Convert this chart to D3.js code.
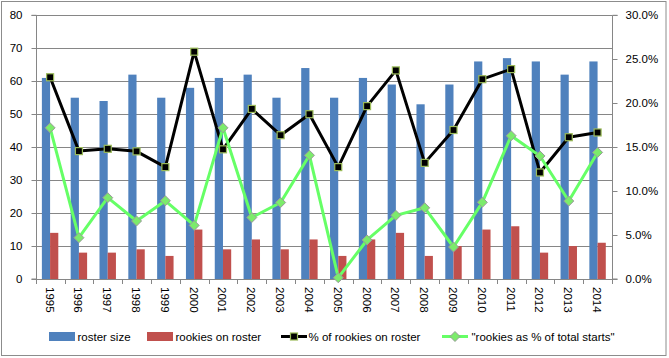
<!DOCTYPE html>
<html><head><meta charset="utf-8">
<script src="https://cdn.jsdelivr.net/npm/d3@7"></script>
<style>body{margin:0;background:#fff}svg{display:block;font-family:"Liberation Sans",Arial,sans-serif}</style>
</head><body><svg id="c" width="669" height="358"></svg>
<script>
const years = ["1995","1996","1997","1998","1999","2000","2001","2002","2003","2004","2005","2006","2007","2008","2009","2010","2011","2012","2013","2014"];
const rosterSize = [61,55,54,62,55,58,61,62,55,64,55,61,59,53,59,66,67,66,62,66];
const rookiesOnRoster = [14,8,8,9,7,15,9,12,9,12,7,12,14,7,10,15,16,8,10,11];
const pctRookiesOnRoster = [0.2295,0.1455,0.1481,0.1452,0.1273,0.2586,0.1475,0.1935,0.1636,0.1875,0.1273,0.1967,0.2373,0.1321,0.1695,0.2273,0.2388,0.1212,0.1613,0.1667];
const pctRookieStarts = [0.172,0.047,0.0925,0.066,0.089,0.061,0.172,0.070,0.087,0.1407,0.0015,0.0444,0.0724,0.081,0.0364,0.0872,0.163,0.140,0.0887,0.144];
const leftTicks = [0,10,20,30,40,50,60,70,80];
const rightTicks = [0,0.05,0.10,0.15,0.20,0.25,0.30];
const seriesNames = ["roster size","rookies on roster","% of rookies on roster","\"rookies as % of total  starts\""];

const svg = d3.select("#c");
const L = 35.7, R = 612, T = 15.3, B = 279;
const x = d3.scaleBand().domain(years).range([L, R]);
const yL = d3.scaleLinear().domain([0, 80]).range([B, T]);
const yR = d3.scaleLinear().domain([0, 0.30]).range([B, T]);
const grid = "#868686";
const FS = "11.5px";

// outer border
svg.append("rect").attr("x",1.5).attr("y",1.5).attr("width",664.5).attr("height",354).attr("fill","none").attr("stroke","#8c8c8c").attr("stroke-width",1);

// gridlines
svg.append("g").selectAll("line").data(leftTicks.slice(1)).join("line")
  .attr("x1",L).attr("x2",R).attr("y1",d=>Math.round(yL(d))+0.5).attr("y2",d=>Math.round(yL(d))+0.5)
  .attr("stroke",grid).attr("stroke-width",1);

// bars
const bw = x.bandwidth()*0.285, off = x.bandwidth()*0.2143;
svg.append("g").selectAll("rect").data(rosterSize).join("rect")
  .attr("x",(d,i)=>x(years[i])+off).attr("width",bw)
  .attr("y",d=>yL(d)).attr("height",d=>B-yL(d)).attr("fill","#4F81BD");
svg.append("g").selectAll("rect").data(rookiesOnRoster).join("rect")
  .attr("x",(d,i)=>x(years[i])+off+bw).attr("width",bw)
  .attr("y",d=>yL(d)).attr("height",d=>B-yL(d)).attr("fill","#C0504D");

// axes
const axL = svg.append("g").attr("transform",`translate(${Math.round(L)+0.5},0)`)
  .call(d3.axisLeft(yL).tickValues(leftTicks).tickSize(5).tickPadding(9).tickFormat(d3.format("d")));
const axR = svg.append("g").attr("transform",`translate(${R+0.5},0)`)
  .call(d3.axisRight(yR).tickValues(rightTicks).tickSize(5).tickPadding(8).tickFormat(d3.format(".1%")));
[axL,axR].forEach(a=>{a.select(".domain").attr("stroke",grid);a.selectAll(".tick line").attr("stroke",grid);
  a.selectAll("text").attr("font-size",FS).attr("fill","#000").attr("font-family","Liberation Sans, Arial, sans-serif");});
axL.selectAll(".tick").attr("transform",d=>`translate(0,${Math.round(yL(d))+0.5})`);
axR.selectAll(".tick").attr("transform",d=>`translate(0,${Math.round(yR(d))+0.5})`);
axL.select(".domain").attr("d",`M-5,${T}H0V${B}H-5`);
axR.select(".domain").attr("d",`M5,${T}H0V${B}H5`);

// x axis
const gx = svg.append("g");
gx.append("line").attr("x1",L).attr("x2",R).attr("y1",B+0.5).attr("y2",B+0.5).attr("stroke",grid);
gx.selectAll("line.t").data(years.concat(["end"])).join("line").attr("class","t")
  .attr("x1",(d,i)=>Math.round(L+i*x.step())+0.5).attr("x2",(d,i)=>Math.round(L+i*x.step())+0.5)
  .attr("y1",B).attr("y2",B+5).attr("stroke",grid);
gx.selectAll("text").data(years).join("text")
  .attr("transform",d=>`translate(${x(d)+x.bandwidth()/2-4.5},${B+8}) rotate(90)`)
  .attr("font-size",FS).attr("fill","#000").text(d=>d);

// lines
const cx = i => x(years[i]) + x.bandwidth()/2;
const line = d3.line().x((d,i)=>cx(i)).y(d=>yR(d));
svg.append("path").datum(pctRookiesOnRoster).attr("d",line).attr("fill","none").attr("stroke","#000").attr("stroke-width",3).attr("stroke-linejoin","round");
svg.append("path").datum(pctRookieStarts).attr("d",line).attr("fill","none").attr("stroke","#66FF66").attr("stroke-width",3).attr("stroke-linejoin","round");
svg.append("g").selectAll("rect").data(pctRookiesOnRoster).join("rect")
  .attr("x",(d,i)=>cx(i)-3.5).attr("y",d=>yR(d)-3.5).attr("width",7).attr("height",7)
  .attr("fill","#000").attr("stroke","#9BBB59").attr("stroke-width",1.2);
svg.append("g").selectAll("path").data(pctRookieStarts).join("path")
  .attr("d",(d,i)=>`M${cx(i)},${yR(d)-5}L${cx(i)+5},${yR(d)}L${cx(i)},${yR(d)+5}L${cx(i)-5},${yR(d)}Z`)
  .attr("fill","#7CEB6B").attr("stroke","#9a9a9a").attr("stroke-width",1);

// legend
const lg = svg.append("g").attr("font-size",FS);
const ly = 336.5;
lg.append("rect").attr("x",49).attr("y",ly-4.5).attr("width",26).attr("height",9).attr("fill","#4F81BD");
lg.append("text").attr("x",77.5).attr("y",ly+4).text(seriesNames[0]);
lg.append("rect").attr("x",147).attr("y",ly-4.5).attr("width",26).attr("height",9).attr("fill","#C0504D");
lg.append("text").attr("x",175.5).attr("y",ly+4).text(seriesNames[1]);
lg.append("line").attr("x1",281).attr("x2",307).attr("y1",ly).attr("y2",ly).attr("stroke","#000").attr("stroke-width",3);
lg.append("rect").attr("x",290.5).attr("y",ly-3.5).attr("width",7).attr("height",7).attr("fill","#000").attr("stroke","#9BBB59").attr("stroke-width",1.2);
lg.append("text").attr("x",308.5).attr("y",ly+4).text(seriesNames[2]);
lg.append("line").attr("x1",442).attr("x2",468).attr("y1",ly).attr("y2",ly).attr("stroke","#66FF66").attr("stroke-width",3);
lg.append("path").attr("d",`M455,${ly-5}L460,${ly}L455,${ly+5}L450,${ly}Z`).attr("fill","#7CEB6B").attr("stroke","#9a9a9a");
lg.append("text").attr("x",471.5).attr("y",ly+4).text(seriesNames[3]);
</script></body></html>
